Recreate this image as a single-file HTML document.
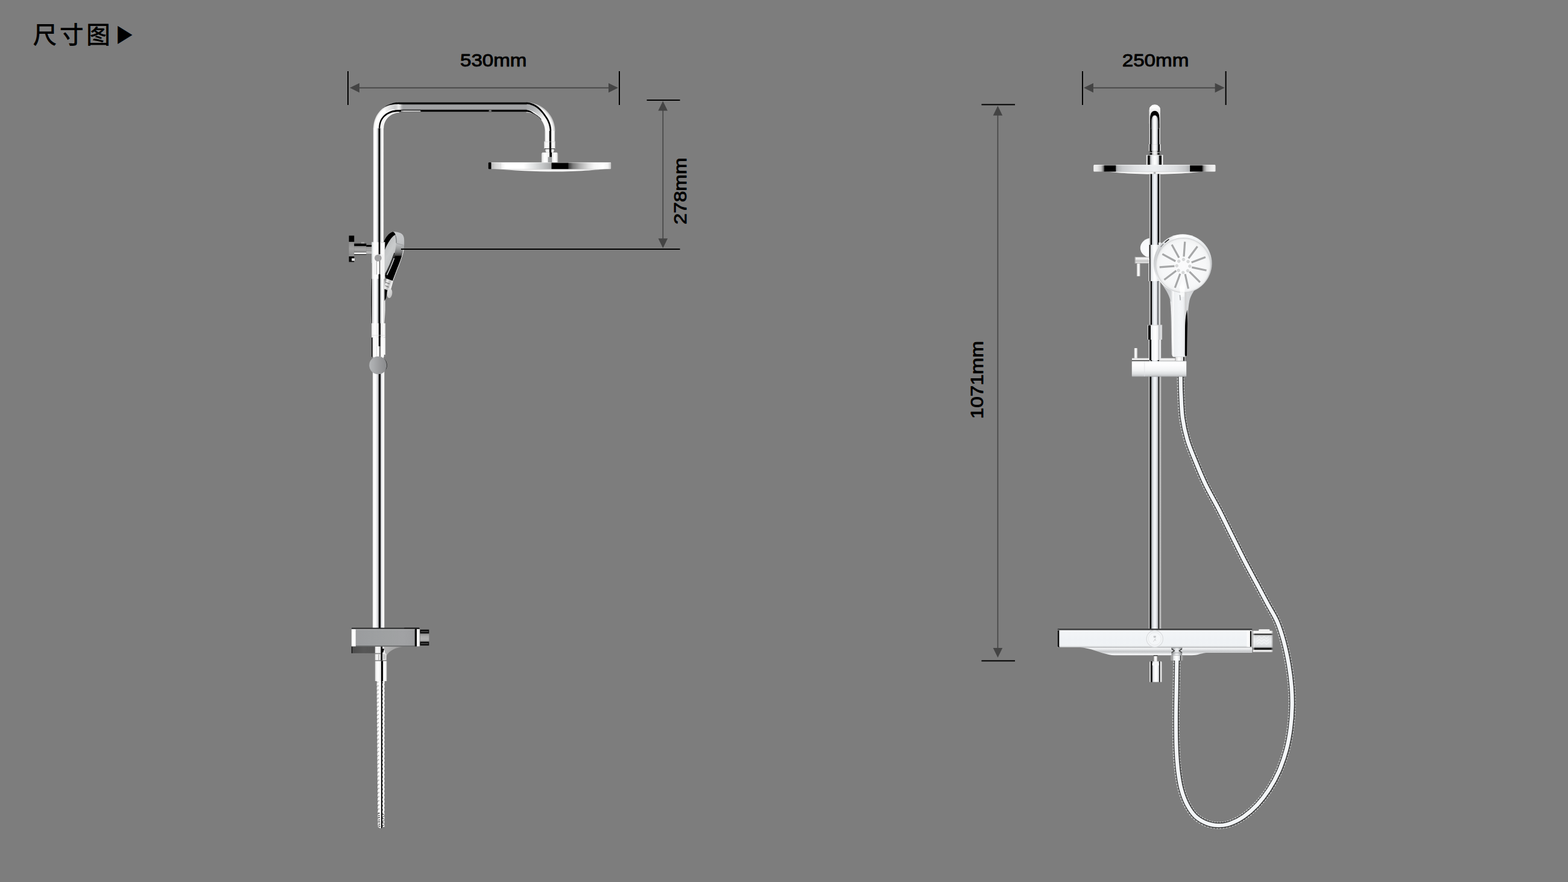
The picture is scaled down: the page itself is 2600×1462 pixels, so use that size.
<!DOCTYPE html>
<html lang="zh-CN">
<head>
<meta charset="utf-8">
<title>尺寸图</title>
<style>
html,body{margin:0;padding:0;background:#7d7d7d;}
body{width:2600px;height:1462px;overflow:hidden;position:relative;font-family:"Liberation Sans","Noto Sans CJK SC",sans-serif;}
svg{position:absolute;left:0;top:0;display:block;}
.dim{font-family:"Liberation Sans","Noto Sans CJK SC",sans-serif;fill:#000;stroke:#000;stroke-width:0.9px;stroke-linejoin:round;}
.ttl{font-family:"Liberation Sans","Noto Sans CJK SC",sans-serif;fill:#000;}
</style>
</head>
<body>
<svg width="2600" height="1462" viewBox="0 0 2600 1462">
<defs>
<linearGradient id="g1" x1="615" y1="0" x2="640" y2="0" gradientUnits="userSpaceOnUse"><stop offset="0" stop-color="#7d7d7d"/><stop offset="0.024" stop-color="#222"/><stop offset="0.072" stop-color="#222"/><stop offset="0.096" stop-color="#e8e8e8"/><stop offset="0.48" stop-color="#fff"/><stop offset="0.84" stop-color="#f4f4f4"/><stop offset="0.936" stop-color="#d0d0d0"/><stop offset="1" stop-color="#555"/></linearGradient>
<linearGradient id="g2" x1="0" y1="384" x2="0" y2="430" gradientUnits="userSpaceOnUse"><stop offset="0" stop-color="#c6c8ca"/><stop offset="0.2609" stop-color="#c2c4c6"/><stop offset="0.4261" stop-color="#bcbec0"/><stop offset="0.487" stop-color="#b4b6b8"/><stop offset="0.6087" stop-color="#9c9e9f"/><stop offset="0.7391" stop-color="#7a7b7c"/><stop offset="0.8478" stop-color="#4a4a4a"/><stop offset="0.913" stop-color="#101010"/><stop offset="1" stop-color="#000"/></linearGradient>
<linearGradient id="g3" x1="0.2" y1="0" x2="0.7" y2="1"><stop offset="0" stop-color="#b4b6b7"/><stop offset="0.45" stop-color="#c9cbcc"/><stop offset="0.8" stop-color="#bdbfc0"/><stop offset="1" stop-color="#a6a8a9"/></linearGradient>
<linearGradient id="g4" x1="0" y1="0" x2="1" y2="0.6"><stop offset="0" stop-color="#555"/><stop offset="0.3" stop-color="#f0f0f0"/><stop offset="0.55" stop-color="#bdbdbd"/><stop offset="0.8" stop-color="#f4f4f4"/><stop offset="1" stop-color="#9a9a9a"/></linearGradient>
<linearGradient id="g5" x1="0" y1="0" x2="1" y2="1"><stop offset="0" stop-color="#e6e6e6"/><stop offset="0.5" stop-color="#d2d2d2"/><stop offset="1" stop-color="#bcbcbc"/></linearGradient>
<linearGradient id="g6" x1="0" y1="390.2" x2="0" y2="435.4" gradientUnits="userSpaceOnUse"><stop offset="0" stop-color="#4a4a4a"/><stop offset="0.031" stop-color="#000"/><stop offset="0.2257" stop-color="#000"/><stop offset="0.2434" stop-color="#8e8e8e"/><stop offset="0.4823" stop-color="#a0a0a0"/><stop offset="0.7611" stop-color="#8c8c8c"/><stop offset="0.7788" stop-color="#000"/><stop offset="0.9558" stop-color="#000"/><stop offset="0.9735" stop-color="#555"/><stop offset="1" stop-color="#777"/></linearGradient>
<linearGradient id="g7" x1="0" y1="403.6" x2="0" y2="422.8" gradientUnits="userSpaceOnUse"><stop offset="0" stop-color="#222"/><stop offset="0.0417" stop-color="#000"/><stop offset="0.1979" stop-color="#000"/><stop offset="0.2396" stop-color="#8a8a8a"/><stop offset="0.4896" stop-color="#a6a6a6"/><stop offset="0.7187" stop-color="#8e8e8e"/><stop offset="0.75" stop-color="#111"/><stop offset="0.7917" stop-color="#fff"/><stop offset="0.9062" stop-color="#fff"/><stop offset="0.9375" stop-color="#222"/><stop offset="1" stop-color="#666"/></linearGradient>
<linearGradient id="g8" x1="0" y1="406" x2="0" y2="420.2" gradientUnits="userSpaceOnUse"><stop offset="0" stop-color="#000"/><stop offset="0.1972" stop-color="#000"/><stop offset="0.2394" stop-color="#8c8c8c"/><stop offset="0.493" stop-color="#a2a2a2"/><stop offset="0.7465" stop-color="#9a9a9a"/><stop offset="0.8028" stop-color="#d8d8d8"/><stop offset="0.8592" stop-color="#555"/><stop offset="0.9155" stop-color="#fff"/><stop offset="1" stop-color="#aaa"/></linearGradient>
<linearGradient id="g9" x1="618.8" y1="0" x2="636.2" y2="0" gradientUnits="userSpaceOnUse"><stop offset="0" stop-color="#c4c4c6"/><stop offset="0.0575" stop-color="#ececee"/><stop offset="0.1149" stop-color="#fdfdfe"/><stop offset="0.2644" stop-color="#ffffff"/><stop offset="0.3448" stop-color="#eeeff1"/><stop offset="0.4253" stop-color="#c8cacc"/><stop offset="0.4943" stop-color="#909294"/><stop offset="0.523" stop-color="#000"/><stop offset="0.6437" stop-color="#000"/><stop offset="0.6667" stop-color="#7c7e80"/><stop offset="0.7126" stop-color="#bcbebe"/><stop offset="0.7816" stop-color="#e8eaea"/><stop offset="0.8391" stop-color="#ffffff"/><stop offset="0.931" stop-color="#ffffff"/><stop offset="0.9655" stop-color="#e4e4e4"/><stop offset="1" stop-color="#c0c0c0"/></linearGradient>
<linearGradient id="g10" x1="617.9" y1="0" x2="637.5" y2="0" gradientUnits="userSpaceOnUse"><stop offset="0" stop-color="#c9c9c9"/><stop offset="0.0663" stop-color="#fafafa"/><stop offset="0.2296" stop-color="#ffffff"/><stop offset="0.3418" stop-color="#ececee"/><stop offset="0.4337" stop-color="#c9c9cc"/><stop offset="0.4898" stop-color="#a8a8aa"/><stop offset="0.5102" stop-color="#000"/><stop offset="0.648" stop-color="#000"/><stop offset="0.6684" stop-color="#aeb0b4"/><stop offset="0.75" stop-color="#d8d9dc"/><stop offset="0.8418" stop-color="#fbfbfc"/><stop offset="0.9439" stop-color="#ffffff"/><stop offset="1" stop-color="#cdcdcd"/></linearGradient>
<linearGradient id="g11" x1="0" y1="169.6" x2="0" y2="185.4" gradientUnits="userSpaceOnUse"><stop offset="0" stop-color="#2a2a2a"/><stop offset="0.0506" stop-color="#000"/><stop offset="0.1899" stop-color="#000"/><stop offset="0.2405" stop-color="#8f9092"/><stop offset="0.4051" stop-color="#a3a4a6"/><stop offset="0.6582" stop-color="#a0a1a3"/><stop offset="0.7595" stop-color="#8a8a8c"/><stop offset="0.7975" stop-color="#000"/><stop offset="0.9494" stop-color="#000"/><stop offset="1" stop-color="#3a3a3a"/></linearGradient>
<radialGradient id="g12" cx="662" cy="212.6" r="43.0" gradientUnits="userSpaceOnUse"><stop offset="0" stop-color="#ffffff"/><stop offset="0.6" stop-color="#ffffff"/><stop offset="0.66" stop-color="#f4f4f4"/><stop offset="0.8" stop-color="#fdfdfd"/><stop offset="0.92" stop-color="#ffffff"/><stop offset="0.975" stop-color="#ececec"/><stop offset="1" stop-color="#c4c4c4"/></radialGradient>
<linearGradient id="g13" x1="0" y1="0" x2="1" y2="0"><stop offset="0" stop-color="#a2a3a5" stop-opacity="0"/><stop offset="0.75" stop-color="#a2a3a5" stop-opacity="0.55"/><stop offset="1" stop-color="#a2a3a5" stop-opacity="1"/></linearGradient>
<radialGradient id="g14" cx="872.5" cy="217.6" r="48.0" gradientUnits="userSpaceOnUse"><stop offset="0" stop-color="#f4f4f4"/><stop offset="0.64" stop-color="#f4f4f4"/><stop offset="0.7" stop-color="#ffffff"/><stop offset="0.8" stop-color="#f0f0f0"/><stop offset="0.86" stop-color="#ffffff"/><stop offset="0.93" stop-color="#f6f6f6"/><stop offset="1" stop-color="#b8b8b8"/></radialGradient>
<linearGradient id="g15" x1="0" y1="0" x2="1" y2="0.8"><stop offset="0" stop-color="#a2a3a5" stop-opacity="1"/><stop offset="0.35" stop-color="#aeb0b2" stop-opacity="1"/><stop offset="0.7" stop-color="#c9cbcc" stop-opacity="0.8"/><stop offset="1" stop-color="#e0e0e0" stop-opacity="0"/></linearGradient>
<linearGradient id="g16" x1="0" y1="0" x2="1" y2="0"><stop offset="0" stop-color="#f4f4f4" stop-opacity="0"/><stop offset="0.4" stop-color="#ececec" stop-opacity="1"/><stop offset="0.6" stop-color="#dedede" stop-opacity="1"/><stop offset="1" stop-color="#a3a4a6" stop-opacity="0"/></linearGradient>
<linearGradient id="g17" x1="0" y1="0" x2="1" y2="0"><stop offset="0" stop-color="#8a8a8a"/><stop offset="0.15" stop-color="#c9c9c9"/><stop offset="1" stop-color="#bdbdbd"/></linearGradient>
<linearGradient id="g18" x1="903.3" y1="0" x2="920.2" y2="0" gradientUnits="userSpaceOnUse"><stop offset="0" stop-color="#b8b8b8"/><stop offset="0.0769" stop-color="#f0f0f0"/><stop offset="0.2189" stop-color="#ffffff"/><stop offset="0.4201" stop-color="#f0f0f0"/><stop offset="0.4556" stop-color="#000"/><stop offset="0.6213" stop-color="#000"/><stop offset="0.6568" stop-color="#e8e8e8"/><stop offset="0.8107" stop-color="#ffffff"/><stop offset="0.929" stop-color="#f0f0f0"/><stop offset="1" stop-color="#b0b0b0"/></linearGradient>
<linearGradient id="g19" x1="902" y1="0" x2="920.8" y2="0" gradientUnits="userSpaceOnUse"><stop offset="0" stop-color="#b0b0b0"/><stop offset="0.0745" stop-color="#ededed"/><stop offset="0.266" stop-color="#ffffff"/><stop offset="0.4574" stop-color="#f0f0f0"/><stop offset="0.484" stop-color="#000"/><stop offset="0.633" stop-color="#000"/><stop offset="0.6649" stop-color="#e4e4e4"/><stop offset="0.8191" stop-color="#ffffff"/><stop offset="0.9362" stop-color="#ececec"/><stop offset="1" stop-color="#a8a8a8"/></linearGradient>
<linearGradient id="g20" x1="903" y1="0" x2="920" y2="0" gradientUnits="userSpaceOnUse"><stop offset="0" stop-color="#777"/><stop offset="0.1176" stop-color="#e0e0e0"/><stop offset="0.2941" stop-color="#fff"/><stop offset="0.4706" stop-color="#ddd"/><stop offset="0.4941" stop-color="#000"/><stop offset="0.6471" stop-color="#000"/><stop offset="0.6824" stop-color="#e8e8e8"/><stop offset="0.8235" stop-color="#fff"/><stop offset="1" stop-color="#888"/></linearGradient>
<linearGradient id="g21" x1="897.6" y1="0" x2="925.4" y2="0" gradientUnits="userSpaceOnUse"><stop offset="0" stop-color="#a4a4a4"/><stop offset="0.0576" stop-color="#e8e8e8"/><stop offset="0.1942" stop-color="#ffffff"/><stop offset="0.4101" stop-color="#f4f4f4"/><stop offset="0.4892" stop-color="#e0e0e0"/><stop offset="0.5036" stop-color="#000"/><stop offset="0.6187" stop-color="#000"/><stop offset="0.6403" stop-color="#e0e0e0"/><stop offset="0.7698" stop-color="#ffffff"/><stop offset="0.9137" stop-color="#f0f0f0"/><stop offset="1" stop-color="#a0a0a0"/></linearGradient>
<linearGradient id="g22" x1="809.8" y1="0" x2="1013.2" y2="0" gradientUnits="userSpaceOnUse"><stop offset="0" stop-color="#000"/><stop offset="0.0221" stop-color="#000"/><stop offset="0.0241" stop-color="#b9b9b9"/><stop offset="0.06" stop-color="#d6d6d6"/><stop offset="0.0973" stop-color="#e4e4e4"/><stop offset="0.0993" stop-color="#8a8a8a"/><stop offset="0.1023" stop-color="#eeeeee"/><stop offset="0.1386" stop-color="#ffffff"/><stop offset="0.2861" stop-color="#ffffff"/><stop offset="0.3697" stop-color="#e0e2e3"/><stop offset="0.4435" stop-color="#c4c6c7"/><stop offset="0.5133" stop-color="#a4a5a6"/><stop offset="0.5162" stop-color="#000"/><stop offset="0.648" stop-color="#000"/><stop offset="0.6549" stop-color="#3c3c3c"/><stop offset="0.6893" stop-color="#7a7a7a"/><stop offset="0.7483" stop-color="#b0b0b0"/><stop offset="0.8122" stop-color="#dedede"/><stop offset="0.8614" stop-color="#f6f6f6"/><stop offset="0.9351" stop-color="#ffffff"/><stop offset="0.9744" stop-color="#f4f4f4"/><stop offset="1" stop-color="#c4c4c4"/></linearGradient>
<linearGradient id="g23" x1="0" y1="279" x2="0" y2="285" gradientUnits="userSpaceOnUse"><stop offset="0" stop-color="#8c8c8c"/><stop offset="0.2667" stop-color="#dcdcdc"/><stop offset="0.6" stop-color="#ffffff"/><stop offset="0.9333" stop-color="#e6e6e6"/></linearGradient>
<linearGradient id="g24" x1="616.4" y1="0" x2="638.4" y2="0" gradientUnits="userSpaceOnUse"><stop offset="0" stop-color="#9a9a9a"/><stop offset="0.0455" stop-color="#e8e8e8"/><stop offset="0.1409" stop-color="#f8f8f8"/><stop offset="0.3455" stop-color="#ffffff"/><stop offset="0.5" stop-color="#eeeeee"/><stop offset="0.5227" stop-color="#000"/><stop offset="0.6273" stop-color="#000"/><stop offset="0.65" stop-color="#e6e6e6"/><stop offset="0.8" stop-color="#ffffff"/><stop offset="0.9364" stop-color="#f4f4f4"/><stop offset="1" stop-color="#c6c6c6"/></linearGradient>
<linearGradient id="g25" x1="624.6" y1="0" x2="630.4" y2="0" gradientUnits="userSpaceOnUse"><stop offset="0" stop-color="#555"/><stop offset="0.1379" stop-color="#fff"/><stop offset="0.6897" stop-color="#fff"/><stop offset="0.7931" stop-color="#222"/><stop offset="1" stop-color="#999"/></linearGradient>
<linearGradient id="g26" x1="618.8" y1="0" x2="636.2" y2="0" gradientUnits="userSpaceOnUse"><stop offset="0" stop-color="#c4c4c6"/><stop offset="0.0575" stop-color="#ececee"/><stop offset="0.1149" stop-color="#fdfdfe"/><stop offset="0.2644" stop-color="#ffffff"/><stop offset="0.3448" stop-color="#eeeff1"/><stop offset="0.4253" stop-color="#c8cacc"/><stop offset="0.4943" stop-color="#909294"/><stop offset="0.523" stop-color="#000"/><stop offset="0.6437" stop-color="#000"/><stop offset="0.6667" stop-color="#7c7e80"/><stop offset="0.7126" stop-color="#bcbebe"/><stop offset="0.7816" stop-color="#e8eaea"/><stop offset="0.8391" stop-color="#ffffff"/><stop offset="0.931" stop-color="#ffffff"/><stop offset="0.9655" stop-color="#e4e4e4"/><stop offset="1" stop-color="#c0c0c0"/></linearGradient>
<linearGradient id="g27" x1="616" y1="0" x2="639.2" y2="0" gradientUnits="userSpaceOnUse"><stop offset="0" stop-color="#c4c4c4"/><stop offset="0.069" stop-color="#f4f4f4"/><stop offset="0.2586" stop-color="#ffffff"/><stop offset="0.4569" stop-color="#eaeaea"/><stop offset="0.5086" stop-color="#cfcfcf"/><stop offset="0.5259" stop-color="#000"/><stop offset="0.6379" stop-color="#000"/><stop offset="0.6552" stop-color="#d8d8d8"/><stop offset="0.75" stop-color="#f2f2f2"/><stop offset="0.8621" stop-color="#ffffff"/><stop offset="0.9483" stop-color="#ececec"/><stop offset="1" stop-color="#c0c0c0"/></linearGradient>
<linearGradient id="g28" x1="616" y1="0" x2="639.2" y2="0" gradientUnits="userSpaceOnUse"><stop offset="0" stop-color="#111"/><stop offset="0.0603" stop-color="#222"/><stop offset="0.0862" stop-color="#e2e2e2"/><stop offset="0.2155" stop-color="#ffffff"/><stop offset="0.4569" stop-color="#f0f0f0"/><stop offset="0.5086" stop-color="#d4d4d4"/><stop offset="0.5259" stop-color="#000"/><stop offset="0.6207" stop-color="#000"/><stop offset="0.6379" stop-color="#dcdcdc"/><stop offset="0.7586" stop-color="#ffffff"/><stop offset="0.931" stop-color="#f6f6f6"/><stop offset="1" stop-color="#cdcdcd"/></linearGradient>
<linearGradient id="g29" x1="624.6" y1="0" x2="630.4" y2="0" gradientUnits="userSpaceOnUse"><stop offset="0" stop-color="#bbb"/><stop offset="0.1379" stop-color="#fff"/><stop offset="0.6552" stop-color="#fff"/><stop offset="0.7931" stop-color="#444"/><stop offset="1" stop-color="#ddd"/></linearGradient>
<linearGradient id="g30" x1="0" y1="0" x2="1" y2="0"><stop offset="0" stop-color="#b4b6b8"/><stop offset="0.25" stop-color="#a9abad"/><stop offset="0.6" stop-color="#98999b"/><stop offset="1" stop-color="#88898b"/></linearGradient>
<linearGradient id="g31" x1="0" y1="0" x2="1" y2="0"><stop offset="0" stop-color="#000"/><stop offset="0.03" stop-color="#1a1a1a"/><stop offset="0.05" stop-color="#4c4c4c"/><stop offset="0.5" stop-color="#575757"/><stop offset="1" stop-color="#535353"/></linearGradient>
<linearGradient id="g32" x1="0" y1="0" x2="1" y2="0.3"><stop offset="0" stop-color="#b6b6b6"/><stop offset="0.5" stop-color="#a6a6a6"/><stop offset="1" stop-color="#8c8c8c" stop-opacity="0.3"/></linearGradient>
<linearGradient id="g33" x1="621.8" y1="0" x2="641" y2="0" gradientUnits="userSpaceOnUse"><stop offset="0" stop-color="#c0c0c0"/><stop offset="0.0625" stop-color="#ececec"/><stop offset="0.2188" stop-color="#f8f8f8"/><stop offset="0.4583" stop-color="#e6e6e6"/><stop offset="0.5104" stop-color="#555"/><stop offset="0.5417" stop-color="#000"/><stop offset="0.6354" stop-color="#111"/><stop offset="0.6667" stop-color="#e0e0e0"/><stop offset="0.7917" stop-color="#f4f4f4"/><stop offset="1" stop-color="#cfcfcf"/></linearGradient>
<linearGradient id="g34" x1="621.8" y1="0" x2="641.4" y2="0" gradientUnits="userSpaceOnUse"><stop offset="0" stop-color="#b4b4b4"/><stop offset="0.0612" stop-color="#ededed"/><stop offset="0.2449" stop-color="#ffffff"/><stop offset="0.4388" stop-color="#f4f4f4"/><stop offset="0.5" stop-color="#d0d0d0"/><stop offset="0.5255" stop-color="#000"/><stop offset="0.6531" stop-color="#000"/><stop offset="0.6837" stop-color="#dadada"/><stop offset="0.7959" stop-color="#ffffff"/><stop offset="0.9286" stop-color="#f0f0f0"/><stop offset="1" stop-color="#b8b8b8"/></linearGradient>
<linearGradient id="g35" x1="624.5" y1="0" x2="637.9" y2="0" gradientUnits="userSpaceOnUse"><stop offset="0" stop-color="#c8c8c8"/><stop offset="0.0672" stop-color="#f2f2f2"/><stop offset="0.2612" stop-color="#ffffff"/><stop offset="0.4552" stop-color="#fbfbfb"/><stop offset="0.5299" stop-color="#d8d8d8"/><stop offset="0.5522" stop-color="#0c0c0c"/><stop offset="0.6866" stop-color="#141414"/><stop offset="0.7164" stop-color="#e6e6e6"/><stop offset="0.7985" stop-color="#ffffff"/><stop offset="0.9328" stop-color="#f8f8f8"/><stop offset="1" stop-color="#c4c4c4"/></linearGradient>
<linearGradient id="g36" x1="582.8" y1="0" x2="696" y2="0" gradientUnits="userSpaceOnUse"><stop offset="0" stop-color="#dcdcdc"/><stop offset="0.0106" stop-color="#ffffff"/><stop offset="0.0459" stop-color="#ffffff"/><stop offset="0.0601" stop-color="#e6e6e6"/><stop offset="0.0671" stop-color="#9b9c9e"/><stop offset="0.2403" stop-color="#9c9ea0"/><stop offset="0.5053" stop-color="#9fa1a2"/><stop offset="0.7703" stop-color="#a1a2a4"/><stop offset="0.924" stop-color="#9c9d9f"/><stop offset="0.9284" stop-color="#000"/><stop offset="0.9523" stop-color="#000"/><stop offset="0.9576" stop-color="#e8e8e8"/><stop offset="0.9735" stop-color="#ffffff"/><stop offset="0.9912" stop-color="#f2f2f2"/><stop offset="1" stop-color="#bdbdbd"/></linearGradient>
<linearGradient id="g37" x1="0" y1="1043.2" x2="0" y2="1070.6" gradientUnits="userSpaceOnUse"><stop offset="0" stop-color="#666"/><stop offset="0.0365" stop-color="#0a0a0a"/><stop offset="0.2336" stop-color="#111"/><stop offset="0.2701" stop-color="#8a8a8a"/><stop offset="0.3942" stop-color="#a8a8a8"/><stop offset="0.6131" stop-color="#b2b2b2"/><stop offset="0.7226" stop-color="#9a9a9a"/><stop offset="0.7591" stop-color="#111"/><stop offset="0.9562" stop-color="#0a0a0a"/><stop offset="1" stop-color="#777"/></linearGradient>
<path id="hosep" d="M1957.6 622 C1957.7 626.9 1957.65 639.6 1958.2 651.4 C1958.75 663.2 1959.17 679.92 1960.9 692.8 C1962.63 705.68 1965.23 717.2 1968.6 728.7 C1971.97 740.2 1976.03 749.38 1981.1 761.8 C1986.17 774.22 1992.33 789.4 1999 803.2 C2005.67 817 2013.97 830.8 2021.1 844.6 C2028.23 858.4 2034.9 872.2 2041.8 886 C2048.7 899.8 2055.37 913.6 2062.5 927.4 C2069.63 941.2 2078.05 956.53 2084.6 968.8 C2091.15 981.07 2096.28 990.73 2101.8 1001 C2107.32 1011.27 2113.22 1019.98 2117.7 1030.4 C2122.18 1040.82 2125.48 1051.55 2128.7 1063.5 C2131.92 1075.45 2134.87 1089.68 2137 1102.1 C2139.13 1114.52 2140.58 1126.5 2141.5 1138 C2142.42 1149.5 2142.78 1159.6 2142.5 1171.1 C2142.22 1182.6 2141.4 1195.03 2139.8 1207 C2138.2 1218.97 2136.13 1230.93 2132.9 1242.9 C2129.67 1254.87 2125.23 1267.77 2120.4 1278.8 C2115.57 1289.83 2109.87 1299.9 2103.9 1309.1 C2097.93 1318.3 2091.5 1326.63 2084.6 1334 C2077.7 1341.37 2069.87 1348.15 2062.5 1353.3 C2055.13 1358.45 2047.3 1362.42 2040.4 1364.9 C2033.5 1367.38 2027.53 1368.2 2021.1 1368.2 C2014.67 1368.2 2008.25 1367.38 2001.8 1364.9 C1995.35 1362.42 1987.93 1358.45 1982.4 1353.3 C1976.87 1348.15 1972.5 1341.37 1968.6 1334 C1964.7 1326.63 1961.52 1318.3 1959 1309.1 C1956.48 1299.9 1954.88 1289.83 1953.5 1278.8 C1952.12 1267.77 1951.3 1257.17 1950.7 1242.9 C1950.1 1228.63 1949.9 1210.68 1949.9 1193.2 C1949.9 1175.72 1950.45 1154.53 1950.7 1138 C1950.95 1121.47 1951.28 1101.33 1951.4 1094"/>
<linearGradient id="g38" x1="1905.6" y1="0" x2="1924" y2="0" gradientUnits="userSpaceOnUse"><stop offset="0" stop-color="#b4b4b4"/><stop offset="0.0435" stop-color="#e4e4e4"/><stop offset="0.0761" stop-color="#d0d0d0"/><stop offset="0.0978" stop-color="#1a1a1a"/><stop offset="0.1304" stop-color="#000"/><stop offset="0.1848" stop-color="#0a0a0a"/><stop offset="0.2283" stop-color="#85888b"/><stop offset="0.2935" stop-color="#c4c7ca"/><stop offset="0.3804" stop-color="#eef0f2"/><stop offset="0.5" stop-color="#ffffff"/><stop offset="0.6196" stop-color="#eef0f2"/><stop offset="0.7065" stop-color="#c4c7ca"/><stop offset="0.7717" stop-color="#85888b"/><stop offset="0.8152" stop-color="#0a0a0a"/><stop offset="0.8696" stop-color="#000"/><stop offset="0.9022" stop-color="#1a1a1a"/><stop offset="0.9239" stop-color="#d0d0d0"/><stop offset="0.9565" stop-color="#e4e4e4"/><stop offset="1" stop-color="#b4b4b4"/></linearGradient>
<linearGradient id="g39" x1="0" y1="173.4" x2="0" y2="205" gradientUnits="userSpaceOnUse"><stop offset="0" stop-color="#f4f4f4"/><stop offset="0.1456" stop-color="#ffffff"/><stop offset="0.3354" stop-color="#ececec"/><stop offset="0.5886" stop-color="#d8d8d8"/><stop offset="1" stop-color="#d2d2d2"/></linearGradient>
<linearGradient id="g40" x1="1904.8" y1="0" x2="1924.8" y2="0" gradientUnits="userSpaceOnUse"><stop offset="0" stop-color="#b0b0b0"/><stop offset="0.04" stop-color="#f0f0f0"/><stop offset="0.07" stop-color="#d0d0d0"/><stop offset="0.09" stop-color="#000"/><stop offset="0.2" stop-color="#000"/><stop offset="0.24" stop-color="#8a8d90"/><stop offset="0.36" stop-color="#e8eaec"/><stop offset="0.5" stop-color="#ffffff"/><stop offset="0.64" stop-color="#e8eaec"/><stop offset="0.76" stop-color="#8a8d90"/><stop offset="0.8" stop-color="#000"/><stop offset="0.91" stop-color="#000"/><stop offset="0.93" stop-color="#d8d8d8"/><stop offset="0.96" stop-color="#f0f0f0"/><stop offset="1" stop-color="#b0b0b0"/></linearGradient>
<linearGradient id="g41" x1="1905.6" y1="0" x2="1924" y2="0" gradientUnits="userSpaceOnUse"><stop offset="0" stop-color="#666"/><stop offset="0.0978" stop-color="#111"/><stop offset="0.2174" stop-color="#000"/><stop offset="0.2935" stop-color="#c0c0c0"/><stop offset="0.5109" stop-color="#fff"/><stop offset="0.7065" stop-color="#c0c0c0"/><stop offset="0.7826" stop-color="#000"/><stop offset="0.8913" stop-color="#111"/><stop offset="1" stop-color="#777"/></linearGradient>
<linearGradient id="g42" x1="1900.6" y1="0" x2="1928.8" y2="0" gradientUnits="userSpaceOnUse"><stop offset="0" stop-color="#b8b8b8"/><stop offset="0.0426" stop-color="#f2f2f2"/><stop offset="0.078" stop-color="#d0d0d0"/><stop offset="0.0922" stop-color="#000"/><stop offset="0.1986" stop-color="#000"/><stop offset="0.227" stop-color="#9a9c9e"/><stop offset="0.3333" stop-color="#e8eaeb"/><stop offset="0.5035" stop-color="#ffffff"/><stop offset="0.6667" stop-color="#e8eaeb"/><stop offset="0.7589" stop-color="#9a9c9e"/><stop offset="0.7801" stop-color="#000"/><stop offset="0.8865" stop-color="#000"/><stop offset="0.9078" stop-color="#d0d0d0"/><stop offset="0.9504" stop-color="#f2f2f2"/><stop offset="1" stop-color="#b4b4b4"/></linearGradient>
<linearGradient id="g43" x1="0" y1="283" x2="0" y2="289" gradientUnits="userSpaceOnUse"><stop offset="0" stop-color="#9a9a9a"/><stop offset="0.2667" stop-color="#d8d8d8"/><stop offset="0.6" stop-color="#ffffff"/><stop offset="0.9667" stop-color="#f0f0f0"/></linearGradient>
<linearGradient id="g44" x1="1813" y1="0" x2="2015.8" y2="0" gradientUnits="userSpaceOnUse"><stop offset="0" stop-color="#c0c0c0"/><stop offset="0.0069" stop-color="#efefef"/><stop offset="0.0345" stop-color="#e4e4e4"/><stop offset="0.0641" stop-color="#c4c4c4"/><stop offset="0.0819" stop-color="#7a7a7a"/><stop offset="0.0907" stop-color="#1a1a1a"/><stop offset="0.0947" stop-color="#000"/><stop offset="0.1824" stop-color="#000"/><stop offset="0.1854" stop-color="#8c8e90"/><stop offset="0.1972" stop-color="#b4b6b8"/><stop offset="0.2416" stop-color="#c9cbcd"/><stop offset="0.3304" stop-color="#dcdee0"/><stop offset="0.429" stop-color="#e8eaec"/><stop offset="0.501" stop-color="#eceef0"/><stop offset="0.5769" stop-color="#e6e8ea"/><stop offset="0.6755" stop-color="#dadcde"/><stop offset="0.7495" stop-color="#c6c8ca"/><stop offset="0.789" stop-color="#b0b2b4"/><stop offset="0.7919" stop-color="#000"/><stop offset="0.8856" stop-color="#000"/><stop offset="0.8905" stop-color="#2a2a2a"/><stop offset="0.9024" stop-color="#8a8a8a"/><stop offset="0.927" stop-color="#cfcfcf"/><stop offset="0.9615" stop-color="#eaeaea"/><stop offset="0.9911" stop-color="#f2f2f2"/><stop offset="1" stop-color="#c4c4c4"/></linearGradient>
<linearGradient id="g45" x1="0" y1="0" x2="1" y2="1"><stop offset="0" stop-color="#f4f6f8"/><stop offset="0.6" stop-color="#fbfcfd"/><stop offset="1" stop-color="#e8eaec"/></linearGradient>
<linearGradient id="g46" x1="1905.8" y1="0" x2="1924.3" y2="0" gradientUnits="userSpaceOnUse"><stop offset="0" stop-color="#a8a8a8"/><stop offset="0.027" stop-color="#bebebe"/><stop offset="0.0865" stop-color="#b4b4b4"/><stop offset="0.1081" stop-color="#151515"/><stop offset="0.1297" stop-color="#000"/><stop offset="0.2" stop-color="#050505"/><stop offset="0.227" stop-color="#8e9296"/><stop offset="0.2811" stop-color="#c2c6ca"/><stop offset="0.3892" stop-color="#e6eaee"/><stop offset="0.4757" stop-color="#f2f5f8"/><stop offset="0.5784" stop-color="#eceef2"/><stop offset="0.6811" stop-color="#d0d2d6"/><stop offset="0.7351" stop-color="#a0a2a6"/><stop offset="0.7568" stop-color="#000"/><stop offset="0.8541" stop-color="#000"/><stop offset="0.8757" stop-color="#b0b0b0"/><stop offset="0.9297" stop-color="#c8c8c8"/><stop offset="1" stop-color="#a6a6a6"/></linearGradient>
<linearGradient id="g47" x1="1904.7" y1="0" x2="1925.3" y2="0" gradientUnits="userSpaceOnUse"><stop offset="0" stop-color="#b0b0b0"/><stop offset="0.0291" stop-color="#cacaca"/><stop offset="0.0728" stop-color="#c0c0c0"/><stop offset="0.0922" stop-color="#151515"/><stop offset="0.1214" stop-color="#000"/><stop offset="0.1845" stop-color="#050505"/><stop offset="0.2087" stop-color="#8e9296"/><stop offset="0.2767" stop-color="#bcc0c4"/><stop offset="0.3835" stop-color="#e2e6ea"/><stop offset="0.4757" stop-color="#f2f5f8"/><stop offset="0.5777" stop-color="#eceef2"/><stop offset="0.6748" stop-color="#cfd1d5"/><stop offset="0.7524" stop-color="#a4a6aa"/><stop offset="0.7816" stop-color="#1a1a1a"/><stop offset="0.8447" stop-color="#1a1a1a"/><stop offset="0.8641" stop-color="#9a9a9a"/><stop offset="0.9272" stop-color="#a8a8a8"/><stop offset="0.9563" stop-color="#d2d2d2"/><stop offset="1" stop-color="#b0b0b0"/></linearGradient>
<linearGradient id="g48" x1="1907.7" y1="0" x2="1921" y2="0" gradientUnits="userSpaceOnUse"><stop offset="0" stop-color="#c8cacc"/><stop offset="0.2481" stop-color="#f4f6f8"/><stop offset="0.5489" stop-color="#ffffff"/><stop offset="0.8496" stop-color="#f0f2f4"/><stop offset="1" stop-color="#d0d2d4"/></linearGradient>
<linearGradient id="g49" x1="1905.8" y1="0" x2="1924.3" y2="0" gradientUnits="userSpaceOnUse"><stop offset="0" stop-color="#a8a8a8"/><stop offset="0.027" stop-color="#c2c2c2"/><stop offset="0.0865" stop-color="#b8b8b8"/><stop offset="0.1081" stop-color="#151515"/><stop offset="0.1297" stop-color="#000"/><stop offset="0.2" stop-color="#050505"/><stop offset="0.227" stop-color="#8e9296"/><stop offset="0.2811" stop-color="#c2c6ca"/><stop offset="0.3892" stop-color="#e6eaee"/><stop offset="0.4757" stop-color="#f2f5f8"/><stop offset="0.5784" stop-color="#eceef2"/><stop offset="0.6811" stop-color="#d0d2d6"/><stop offset="0.7297" stop-color="#a0a2a6"/><stop offset="0.7514" stop-color="#5a5e62"/><stop offset="0.8108" stop-color="#5e6266"/><stop offset="0.8324" stop-color="#c4c6c8"/><stop offset="0.8973" stop-color="#d4d6d8"/><stop offset="0.9622" stop-color="#cccccc"/><stop offset="1" stop-color="#a6a6a6"/></linearGradient>
<linearGradient id="g50" x1="0" y1="425.8" x2="0" y2="436.8" gradientUnits="userSpaceOnUse"><stop offset="0" stop-color="#9a9a9a"/><stop offset="0.1091" stop-color="#e8e8e8"/><stop offset="0.2909" stop-color="#f6f6f6"/><stop offset="0.4727" stop-color="#d4d4d4"/><stop offset="0.6545" stop-color="#c4c4c4"/><stop offset="0.8727" stop-color="#e6e6e6"/><stop offset="1" stop-color="#9c9c9c"/></linearGradient>
<linearGradient id="g51" x1="1884.6" y1="0" x2="1890.8" y2="0" gradientUnits="userSpaceOnUse"><stop offset="0" stop-color="#8c8c8c"/><stop offset="0.1935" stop-color="#e0e0e0"/><stop offset="0.4839" stop-color="#ffffff"/><stop offset="0.7742" stop-color="#e4e4e4"/><stop offset="1" stop-color="#9a9a9a"/></linearGradient>
<linearGradient id="g52" x1="1902.8" y1="0" x2="1927.2" y2="0" gradientUnits="userSpaceOnUse"><stop offset="0" stop-color="#b4b4b4"/><stop offset="0.041" stop-color="#e8e8e8"/><stop offset="0.0656" stop-color="#000"/><stop offset="0.1967" stop-color="#000"/><stop offset="0.2213" stop-color="#dadcde"/><stop offset="0.3361" stop-color="#f6f8fa"/><stop offset="0.541" stop-color="#ffffff"/><stop offset="0.7049" stop-color="#f0f2f4"/><stop offset="0.7459" stop-color="#d6d8da"/><stop offset="0.7705" stop-color="#c0c2c4"/><stop offset="0.8689" stop-color="#d6d8da"/><stop offset="0.959" stop-color="#e0e2e4"/><stop offset="1" stop-color="#a8a8a8"/></linearGradient>
<linearGradient id="g53" x1="1904.6" y1="0" x2="1925.4" y2="0" gradientUnits="userSpaceOnUse"><stop offset="0" stop-color="#c0c0c0"/><stop offset="0.0481" stop-color="#e8e8e8"/><stop offset="0.0865" stop-color="#111"/><stop offset="0.1923" stop-color="#000"/><stop offset="0.2212" stop-color="#dcdee0"/><stop offset="0.3558" stop-color="#f8fafb"/><stop offset="0.5962" stop-color="#ffffff"/><stop offset="0.7596" stop-color="#eef0f2"/><stop offset="0.7885" stop-color="#8a8a8a"/><stop offset="0.8365" stop-color="#e0e2e4"/><stop offset="0.9519" stop-color="#eceef0"/><stop offset="1" stop-color="#b0b0b0"/></linearGradient>
<linearGradient id="g54" x1="1880.4" y1="0" x2="1886.2" y2="0" gradientUnits="userSpaceOnUse"><stop offset="0" stop-color="#9c9c9c"/><stop offset="0.2069" stop-color="#e4e4e4"/><stop offset="0.4828" stop-color="#ffffff"/><stop offset="0.7931" stop-color="#e0e0e0"/><stop offset="1" stop-color="#a0a0a0"/></linearGradient>
<linearGradient id="g55" x1="0" y1="593.6" x2="0" y2="599" gradientUnits="userSpaceOnUse"><stop offset="0" stop-color="#c8c8c8"/><stop offset="0.2222" stop-color="#f6f6f6"/><stop offset="0.5556" stop-color="#e0e0e0"/><stop offset="0.7407" stop-color="#3a3a3a"/><stop offset="0.8889" stop-color="#222"/><stop offset="1" stop-color="#888"/></linearGradient>
<linearGradient id="g56" x1="0" y1="593.6" x2="0" y2="599" gradientUnits="userSpaceOnUse"><stop offset="0" stop-color="#c8c8c8"/><stop offset="0.2222" stop-color="#f6f6f6"/><stop offset="0.7037" stop-color="#e4e4e4"/><stop offset="0.8889" stop-color="#9a9a9a"/><stop offset="1" stop-color="#bbb"/></linearGradient>
<linearGradient id="g57" x1="0" y1="598.6" x2="0" y2="624.4" gradientUnits="userSpaceOnUse"><stop offset="0" stop-color="#e8eaec"/><stop offset="0.0698" stop-color="#ffffff"/><stop offset="0.2868" stop-color="#fcfcfd"/><stop offset="0.5969" stop-color="#f2f3f4"/><stop offset="0.8295" stop-color="#dcdee0"/><stop offset="0.9457" stop-color="#c4c6c8"/><stop offset="1" stop-color="#9c9ea0"/></linearGradient>
<linearGradient id="g58" x1="1930" y1="0" x2="1986" y2="0" gradientUnits="userSpaceOnUse"><stop offset="0" stop-color="#c4c6c8"/><stop offset="0.1964" stop-color="#cfd1d3"/><stop offset="0.2429" stop-color="#e6e8ea"/><stop offset="0.2679" stop-color="#ffffff"/><stop offset="0.3036" stop-color="#eef0f2"/><stop offset="0.4464" stop-color="#f4f6f8"/><stop offset="0.5714" stop-color="#f0f2f4"/><stop offset="0.6143" stop-color="#e0e2e4"/><stop offset="0.6286" stop-color="#cfcfcf"/><stop offset="0.6964" stop-color="#d8dadc"/><stop offset="1" stop-color="#c8cacc"/></linearGradient>
<linearGradient id="g59" x1="1948.6" y1="0" x2="1965.4" y2="0" gradientUnits="userSpaceOnUse"><stop offset="0" stop-color="#8a8a8a"/><stop offset="0.0833" stop-color="#e0e0e0"/><stop offset="0.381" stop-color="#ffffff"/><stop offset="0.6786" stop-color="#e6e6e6"/><stop offset="0.7976" stop-color="#cfcfcf"/><stop offset="0.8333" stop-color="#111"/><stop offset="0.9167" stop-color="#111"/><stop offset="0.9524" stop-color="#e0e0e0"/><stop offset="1" stop-color="#9a9a9a"/></linearGradient>
<linearGradient id="g60" x1="0" y1="0.3" x2="1" y2="0.6"><stop offset="0" stop-color="#c4c6c8"/><stop offset="0.12" stop-color="#dcdee0"/><stop offset="0.3" stop-color="#ffffff"/><stop offset="0.6" stop-color="#f2f4f6"/><stop offset="0.85" stop-color="#e0e2e4"/><stop offset="1" stop-color="#c4c6c8"/></linearGradient>
<radialGradient id="g61" cx="1962.1" cy="439.7" r="45.7" gradientUnits="userSpaceOnUse"><stop offset="0" stop-color="#fbfbfc"/><stop offset="0.8" stop-color="#f6f7f8"/><stop offset="0.93" stop-color="#f2f3f4"/><stop offset="0.975" stop-color="#e4e5e6"/><stop offset="1" stop-color="#c2c4c6"/></radialGradient>
<linearGradient id="g62" x1="0" y1="460" x2="0" y2="492" gradientUnits="userSpaceOnUse"><stop offset="0" stop-color="#ffffff" stop-opacity="0"/><stop offset="0.5" stop-color="#ffffff" stop-opacity="0.95"/><stop offset="1" stop-color="#ffffff" stop-opacity="0.6"/></linearGradient>
<linearGradient id="g63" x1="0" y1="1072.6" x2="0" y2="1086.2" gradientUnits="userSpaceOnUse"><stop offset="0" stop-color="#b4b6b8"/><stop offset="0.1471" stop-color="#f4f5f6"/><stop offset="0.3235" stop-color="#e0e2e4"/><stop offset="0.5441" stop-color="#c4c6c8"/><stop offset="0.7353" stop-color="#d8dadc"/><stop offset="0.8824" stop-color="#f8f9fa"/><stop offset="1" stop-color="#e4e6e8"/></linearGradient>
<linearGradient id="g64" x1="1912.8" y1="0" x2="1919.4" y2="0" gradientUnits="userSpaceOnUse"><stop offset="0" stop-color="#777"/><stop offset="0.1515" stop-color="#e0e0e0"/><stop offset="0.4848" stop-color="#ffffff"/><stop offset="0.8182" stop-color="#e0e0e0"/><stop offset="1" stop-color="#777"/></linearGradient>
<linearGradient id="g65" x1="1906" y1="0" x2="1926.8" y2="0" gradientUnits="userSpaceOnUse"><stop offset="0" stop-color="#b0b0b0"/><stop offset="0.0481" stop-color="#f0f0f0"/><stop offset="0.0865" stop-color="#cfcfcf"/><stop offset="0.1058" stop-color="#000"/><stop offset="0.2019" stop-color="#000"/><stop offset="0.2404" stop-color="#b4b6b8"/><stop offset="0.3365" stop-color="#eef0f2"/><stop offset="0.5" stop-color="#ffffff"/><stop offset="0.6731" stop-color="#eef0f2"/><stop offset="0.75" stop-color="#c4c6c8"/><stop offset="0.7692" stop-color="#000"/><stop offset="0.8269" stop-color="#000"/><stop offset="0.851" stop-color="#d4d4d4"/><stop offset="0.9327" stop-color="#f0f0f0"/><stop offset="1" stop-color="#a8a8a8"/></linearGradient>
<linearGradient id="g66" x1="1941.9" y1="0" x2="1960.7" y2="0" gradientUnits="userSpaceOnUse"><stop offset="0" stop-color="#9a9c9e"/><stop offset="0.0904" stop-color="#8a8c8e"/><stop offset="0.2181" stop-color="#b4b6b8"/><stop offset="0.3777" stop-color="#dfe1e3"/><stop offset="0.5053" stop-color="#eceef0"/><stop offset="0.6436" stop-color="#dfe1e3"/><stop offset="0.7819" stop-color="#b4b6b8"/><stop offset="0.9096" stop-color="#8a8c8e"/><stop offset="1" stop-color="#9a9c9e"/></linearGradient>
<linearGradient id="g67" x1="1941" y1="0" x2="1961.8" y2="0" gradientUnits="userSpaceOnUse"><stop offset="0" stop-color="#8e8e8e"/><stop offset="0.0481" stop-color="#a4a4a4"/><stop offset="0.1635" stop-color="#9c9c9c"/><stop offset="0.1923" stop-color="#c8cacc"/><stop offset="0.3173" stop-color="#f0f2f3"/><stop offset="0.4808" stop-color="#ffffff"/><stop offset="0.6538" stop-color="#eceef0"/><stop offset="0.75" stop-color="#c4c6c8"/><stop offset="0.7692" stop-color="#1a1a1a"/><stop offset="0.8077" stop-color="#2a2a2a"/><stop offset="0.8269" stop-color="#a8a8a8"/><stop offset="0.9423" stop-color="#9c9c9c"/><stop offset="1" stop-color="#8a8a8a"/></linearGradient>
<linearGradient id="g68" x1="0" y1="1044.6" x2="0" y2="1073.2" gradientUnits="userSpaceOnUse"><stop offset="0" stop-color="#ffffff"/><stop offset="0.049" stop-color="#f3f5f7"/><stop offset="0.5385" stop-color="#eff2f5"/><stop offset="0.8881" stop-color="#f0f3f5"/><stop offset="0.9441" stop-color="#e0e2e4"/><stop offset="1" stop-color="#a8aaac"/></linearGradient>
<linearGradient id="g69" x1="0" y1="0" x2="1" y2="0"><stop offset="0" stop-color="#9a9a9a"/><stop offset="1" stop-color="#f0f3f5" stop-opacity="0"/></linearGradient>
<linearGradient id="g70" x1="0" y1="0" x2="1" y2="0"><stop offset="0" stop-color="#ffffff" stop-opacity="0"/><stop offset="0.6" stop-color="#ffffff"/><stop offset="1" stop-color="#e4e4e4"/></linearGradient>
<linearGradient id="g71" x1="0" y1="1045.6" x2="0" y2="1081" gradientUnits="userSpaceOnUse"><stop offset="0" stop-color="#d8d8d8"/><stop offset="0.0282" stop-color="#ffffff"/><stop offset="0.1073" stop-color="#ececec"/><stop offset="0.1356" stop-color="#8a8a8a"/><stop offset="0.1582" stop-color="#111"/><stop offset="0.1864" stop-color="#555"/><stop offset="0.2203" stop-color="#d4d6d8"/><stop offset="0.3503" stop-color="#e6e8ea"/><stop offset="0.5198" stop-color="#eaecee"/><stop offset="0.6893" stop-color="#e0e2e4"/><stop offset="0.774" stop-color="#c4c6c8"/><stop offset="0.8023" stop-color="#222"/><stop offset="0.8757" stop-color="#111"/><stop offset="0.8983" stop-color="#cfcfcf"/><stop offset="0.9435" stop-color="#f2f2f2"/><stop offset="1" stop-color="#c0c0c0"/></linearGradient>
<linearGradient id="g72" x1="0" y1="1043" x2="0" y2="1046.4" gradientUnits="userSpaceOnUse"><stop offset="0" stop-color="#c8c8c8"/><stop offset="0.2941" stop-color="#ffffff"/><stop offset="1" stop-color="#e0e0e0"/></linearGradient>
</defs>
<rect width="2600" height="1462" fill="#7d7d7d"/>
<!-- left: hand shower (side view) -->
<path d="M616.2 462 L639.6 462 C640.2 480 640 500 638.6 520 L637.2 536 L616.2 536 C615 512 615 486 616.2 462 Z" fill="url(#g1)"/>
<path d="M636.4 400.4 C639 394 643.4 388 647.3 385.8 C649 384.6 650.4 384 651.6 384 C656 383.8 661 385 664.4 386.6 C667.6 388.2 669.4 391 670 395 C670.4 400 670.4 408 669.6 413 C668.8 420 666.6 428 661.7 439.6 C659 446 655.4 456 651.9 465.6 L640 461.6 L636.4 452 Z" fill="url(#g2)"/>
<path d="M654.2 424.6 L666.6 424 C665 430 662.6 437 660.4 442.6 C657.6 449.6 654.6 458 651.9 465.6 L640.2 461.4 C646 452 651 440 654.2 424.6 Z" fill="#000"/>
<path d="M655.3 389.5 C656.6 393 657 397 656.9 402 C656.7 408 655.8 414 654.2 420 C651 432 645 446 638.6 456 L637 456 L637 414 C639 409 641 406 642.6 404.4 C645 400 649 394 651.9 391.4 Z" fill="url(#g3)"/>
<path d="M636.4 400.6 C639 394 643.4 388.2 647.3 385.9 C649 384.8 650.4 384.3 651.6 384.3 C653.6 384.6 655 386.6 656 389.8 L655.3 389.5 C654 390 652.8 390.6 651.9 391.4 C649 394 645 400 642.6 404.4 C641 407 639.6 410 638.6 413.6 L636.4 413.6 Z" fill="#000"/>
<path d="M655.8 390.4 C657 394 657.3 398 657.1 402.6" fill="none" stroke="#55585a" stroke-width="0.9"/>
<path d="M654 419.4 C650 431 645 444 638.4 455" fill="none" stroke="#1a1a1a" stroke-width="1.3"/>
<path d="M653.6 428 C650 438 646.4 446.6 641.6 455.6" fill="none" stroke="#e6e8ea" stroke-width="1.5"/>
<path d="M654.6 425 C651 436 646.6 447 641 458" fill="none" stroke="#8a8c8e" stroke-width="0.7" stroke-dasharray="0.8 1.1"/>
<path d="M669.2 414 C668 421 665.8 428.6 661.4 439.6 C658.6 446 655 456 651.6 465.2" fill="none" stroke="#ececec" stroke-width="1.1"/>
<path d="M657 403.2 L669.2 406.6" fill="none" stroke="#8c8e90" stroke-width="0.7"/>
<path d="M640 461.4 L652 465.8 L648.8 478 L645 486 L637.5 486 L637.5 461.4 Z" fill="url(#g4)"/>
<path d="M639 468 L646 470.6 M638.6 473.6 L644.6 476" fill="none" stroke="#3a3a3a" stroke-width="1.1" opacity="0.7"/>
<path d="M637.5 479 L642.4 481 L640.2 494 L637.5 499 Z" fill="#0a0a0a"/>
<ellipse cx="646.1" cy="486.3" rx="4.2" ry="7.8" fill="url(#g5)" transform="rotate(8 646.1 486.3)"/>
<!-- left: wall bracket -->
<rect x="578.6" y="390.2" width="8.7" height="45.2" fill="url(#g6)"/>
<rect x="583.2" y="428.2" width="4.8" height="4.2" fill="#f2f2f2"/>
<rect x="587.3" y="403.6" width="20.1" height="19.2" fill="url(#g7)"/>
<rect x="599.8" y="401.2" width="1.2" height="2.4" fill="#d0d0d0"/>
<rect x="602.4" y="401.2" width="1.2" height="2.4" fill="#d0d0d0"/>
<rect x="607.4" y="406" width="9.6" height="14.2" fill="url(#g8)"/>
<!-- left: riser pipe -->
<rect x="618.8" y="211.6" width="17.4" height="388.4" fill="url(#g9)"/>
<rect x="617.9" y="600" width="19.6" height="441" fill="url(#g10)"/>
<path d="M619 212.6 L619.09 209.79 L619.37 206.99 L619.83 204.21 L620.47 201.47 L621.28 198.78 L622.27 196.14 L623.43 193.58 L624.76 191.1 L626.25 188.71 L627.89 186.42 L629.67 184.25 L631.59 182.19 L633.65 180.27 L635.82 178.49 L638.11 176.85 L640.5 175.36 L642.98 174.03 L645.54 172.87 L648.18 171.88 L650.87 171.07 L653.61 170.43 L656.39 169.97 L659.19 169.69 L662 169.6 L662 186.8 L660.31 186.86 L658.63 187.02 L656.97 187.3 L655.32 187.68 L653.71 188.17 L652.13 188.76 L650.59 189.46 L649.1 190.26 L647.67 191.15 L646.29 192.13 L644.99 193.2 L643.76 194.36 L642.6 195.59 L641.53 196.89 L640.55 198.27 L639.66 199.7 L638.86 201.19 L638.16 202.73 L637.57 204.31 L637.08 205.92 L636.7 207.57 L636.42 209.23 L636.26 210.91 L636.2 212.6 Z" fill="url(#g12)"/>
<path d="M635.53 178.72 L636.47 178 L637.44 177.3 L638.42 176.64 L639.43 176 L640.45 175.39 L641.48 174.81 L642.53 174.26 L643.6 173.74 L644.68 173.24 L645.78 172.78 L646.88 172.35 L648 171.94 L649.13 171.57 L650.28 171.28 L651.47 171.14 L652.68 171.13 L653.9 171.24 L655.11 171.42 L656.31 171.66 L657.48 171.92 L658.64 172.17 L659.78 172.39 L660.89 172.54 L662 172.6 L662 182 L661.15 181.98 L660.3 181.94 L659.45 181.88 L658.58 181.81 L657.71 181.73 L656.82 181.64 L655.92 181.56 L655.01 181.5 L654.09 181.45 L653.16 181.42 L652.22 181.43 L651.28 181.47 L650.34 181.55 L649.4 181.68 L648.47 181.86 L647.56 182.1 L646.66 182.39 L645.79 182.75 L644.96 183.18 L644.15 183.66 L643.36 184.17 L642.58 184.69 L641.82 185.24 L641.07 185.81 Z" fill="url(#g13)"/>
<path d="M628 212.6 L628.07 210.38 L628.29 208.16 L628.65 205.97 L629.16 203.8 L629.81 201.67 L630.62 199.6 L631.62 197.62 L632.77 195.73 L634.08 193.94 L635.51 192.28 L637.06 190.73 L638.72 189.32 L640.46 188.04 L642.27 186.89 L644.14 185.88 L646.06 184.99 L648.01 184.24 L649.99 183.6 L651.98 183.08 L653.98 182.67 L655.99 182.37 L657.99 182.16 L660 182.04 L662 182 L662 185.2 L660.21 185.22 L658.41 185.31 L656.6 185.45 L654.78 185.67 L652.96 185.97 L651.13 186.36 L649.31 186.86 L647.49 187.47 L645.69 188.2 L643.93 189.05 L642.21 190.03 L640.55 191.15 L638.96 192.39 L637.47 193.77 L636.08 195.28 L634.82 196.91 L633.71 198.65 L632.76 200.49 L631.98 202.41 L631.38 204.4 L630.91 206.42 L630.57 208.46 L630.37 210.53 L630.3 212.6 Z" fill="#000"/>
<path d="M629.06 184.96 L630.09 183.78 L631.16 182.64 L632.26 181.54 L633.41 180.48 L634.6 179.46 L635.82 178.49 L637.08 177.56 L638.37 176.67 L639.69 175.84 L641.04 175.05 L642.42 174.32 L643.83 173.63 L645.26 172.99 L646.71 172.41 L648.18 171.88 L649.67 171.41 L651.17 170.99 L652.69 170.62 L654.23 170.31 L655.77 170.05 L657.32 169.86 L658.88 169.71 L660.44 169.63 L662 169.6 L662 172.6 L660.55 172.61 L659.09 172.63 L657.63 172.68 L656.16 172.75 L654.69 172.86 L653.22 173 L651.74 173.17 L650.26 173.39 L648.78 173.65 L647.3 173.97 L645.82 174.34 L644.36 174.76 L642.9 175.25 L641.46 175.8 L640.04 176.41 L638.65 177.09 L637.28 177.84 L635.96 178.66 L634.68 179.55 L633.44 180.51 L632.27 181.54 L631.16 182.64 L630.09 183.78 L629.06 184.96 Z" fill="#000"/>
<path d="M872.5 169.6 L875.64 169.7 L878.77 170.01 L881.86 170.52 L884.92 171.24 L887.93 172.15 L890.87 173.25 L893.73 174.55 L896.5 176.03 L899.17 177.69 L901.72 179.52 L904.15 181.51 L906.44 183.66 L908.59 185.95 L910.58 188.38 L912.41 190.93 L914.07 193.6 L915.55 196.37 L916.85 199.23 L917.95 202.17 L918.86 205.18 L919.58 208.24 L920.09 211.33 L920.4 214.46 L920.5 217.6 L903.7 217.6 L903.63 215.56 L903.43 213.53 L903.1 211.51 L902.64 209.52 L902.04 207.57 L901.33 205.66 L900.48 203.8 L899.52 202 L898.44 200.27 L897.25 198.61 L895.96 197.03 L894.56 195.54 L893.07 194.14 L891.49 192.85 L889.83 191.66 L888.1 190.58 L886.3 189.62 L884.44 188.77 L882.53 188.06 L880.58 187.46 L878.59 187 L876.57 186.67 L874.54 186.47 L872.5 186.4 Z" fill="url(#g14)"/>
<path d="M872.5 172.6 L874.4 172.67 L876.28 172.89 L878.14 173.24 L879.98 173.71 L881.77 174.3 L883.52 175.01 L885.21 175.81 L886.85 176.71 L888.43 177.68 L889.94 178.73 L891.39 179.85 L892.78 181.02 L894.1 182.24 L895.36 183.5 L896.56 184.78 L897.71 186.1 L898.81 187.43 L899.86 188.77 L900.87 190.12 L901.85 191.48 L902.81 192.84 L903.75 194.2 L904.67 195.56 L905.57 196.93 L899.98 200.43 L899.23 199.29 L898.43 198.18 L897.61 197.08 L896.77 196 L895.9 194.93 L895.01 193.88 L894.08 192.85 L893.11 191.84 L892.11 190.86 L891.06 189.9 L889.98 188.98 L888.85 188.1 L887.69 187.25 L886.47 186.46 L885.22 185.71 L883.93 185.03 L882.6 184.4 L881.23 183.84 L879.83 183.36 L878.4 182.95 L876.95 182.63 L875.48 182.39 L873.99 182.25 L872.5 182.2 Z" fill="url(#g15)"/>
<path d="M872.5 169.6 L875.63 169.78 L878.72 170.32 L881.73 171.17 L884.63 172.32 L887.4 173.72 L890.01 175.33 L892.46 177.12 L894.75 179.07 L896.87 181.12 L898.85 183.26 L900.69 185.45 L902.42 187.68 L904.06 189.92 L905.63 192.18 L907.17 194.43 L908.61 196.75 L909.9 199.16 L911.03 201.64 L911.99 204.2 L912.78 206.81 L913.4 209.46 L913.84 212.16 L914.11 214.87 L914.2 217.6 L911.6 217.6 L911.52 215.04 L911.27 212.5 L910.85 209.97 L910.27 207.48 L909.52 205.03 L908.62 202.64 L907.57 200.31 L906.36 198.05 L905.01 195.88 L903.57 193.76 L902.09 191.65 L900.55 189.55 L898.92 187.47 L897.19 185.42 L895.33 183.43 L893.34 181.51 L891.19 179.7 L888.89 178.03 L886.44 176.53 L883.85 175.23 L881.14 174.16 L878.32 173.37 L875.43 172.87 L872.5 172.7 Z" fill="#000"/>
<path d="M872.5 182.2 L873.84 182.27 L875.16 182.48 L876.46 182.81 L877.74 183.24 L878.98 183.76 L880.18 184.35 L881.34 185.01 L882.46 185.7 L883.54 186.42 L884.59 187.16 L885.62 187.89 L886.64 188.61 L887.65 189.31 L888.66 189.97 L889.69 190.61 L890.7 191.28 L891.68 191.99 L892.64 192.73 L893.56 193.51 L894.46 194.32 L895.32 195.17 L896.16 196.05 L896.95 196.96 L897.72 197.9 L897.09 198.39 L896.34 197.48 L895.56 196.59 L894.75 195.73 L893.91 194.91 L893.04 194.11 L892.13 193.35 L891.2 192.63 L890.25 191.94 L889.26 191.29 L888.26 190.67 L887.24 190.07 L886.21 189.49 L885.16 188.93 L884.1 188.4 L883.02 187.89 L881.92 187.42 L880.8 186.98 L879.66 186.59 L878.5 186.25 L877.32 185.95 L876.13 185.72 L874.93 185.54 L873.72 185.44 L872.5 185.4 Z" fill="#000"/>
<rect x="661.4" y="169.6" width="212" height="15.8" fill="url(#g11)"/>
<rect x="655" y="172.9" width="14" height="9.2" fill="url(#g16)"/>
<rect x="665" y="183" width="32.4" height="2.2" fill="url(#g17)"/>
<rect x="810.5" y="182.6" width="4.5" height="2" fill="#9a9a9a"/>
<rect x="903.3" y="217" width="16.9" height="18" fill="url(#g18)"/>
<rect x="902" y="234.6" width="18.8" height="11.8" fill="url(#g19)"/>
<rect x="902" y="234.6" width="18.8" height="0.8" fill="#d2d2d2" opacity="0.8"/>
<path d="M903 246.4 L920 246.4 L919 249.6 L917.4 252.8 L905.6 252.8 L904 249.6 Z" fill="url(#g20)"/>
<rect x="903" y="246" width="17" height="1.2" fill="#1a1a1a" opacity="0.75"/>
<path d="M899.4 252.8 L923.6 252.8 L925.4 254.6 L925.4 269.4 L897.6 269.4 L897.6 254.6 Z" fill="url(#g21)"/>
<rect x="908.6" y="260.2" width="6.3" height="9.2" fill="#9c9e9f"/>
<path d="M814 279.4 L1010 279.4 C990 281.4 955 284.4 920 284.6 C890 284.6 850 282.2 814 279.4 Z" fill="url(#g23)"/>
<path d="M809.8 270.4 Q809.8 269.2 811 269.2 L1012 269.2 Q1013.2 269.2 1013.2 270.4 L1013.2 279 Q1013.2 280.2 1012 280.2 L811 280.2 Q809.8 280.2 809.8 279 Z" fill="url(#g22)"/>
<rect x="814.6" y="269.2" width="198.4" height="1" fill="#ffffff" opacity="0.55"/>
<!-- left: slider, sleeves, ball -->
<rect x="616.4" y="401.4" width="22" height="61" fill="url(#g24)"/>
<rect x="620" y="421.6" width="16" height="33.4" fill="#f4f4f4"/>
<rect x="630.6" y="401.4" width="7.8" height="1" fill="#d0d0d0"/>
<rect x="624.6" y="432" width="5.8" height="23" fill="url(#g25)"/>
<rect x="627.9" y="454.4" width="2.4" height="8" fill="#000"/>
<circle cx="626.9" cy="427.7" r="5.8" fill="#a0a0a1"/>
<rect x="616.4" y="401.4" width="2" height="34.6" fill="#dfe3e4" opacity="0.9"/>
<rect x="618.8" y="462.4" width="17.4" height="73.6" fill="url(#g26)"/>
<rect x="616" y="535.8" width="23.2" height="23.8" fill="url(#g27)"/>
<rect x="616" y="555.4" width="23.2" height="1" fill="#dcdcdc" opacity="0.7"/>
<rect x="616" y="559.6" width="23.2" height="32" fill="url(#g28)"/>
<rect x="624.6" y="574" width="5.8" height="18" fill="url(#g29)"/>
<rect x="636.8" y="588" width="2.4" height="4" fill="#7d7d7d"/>
<circle cx="627" cy="605.5" r="14.75" fill="url(#g30)"/>
<path d="M636.6 594.3 A14.75 14.75 0 0 1 638.6 614.6 A16.5 16.5 0 0 0 636.6 594.3 Z" fill="#000"/>
<!-- left: thermostat valve (side) and hose -->
<rect x="582.8" y="1071.2" width="39.2" height="11.6" fill="url(#g31)"/>
<path d="M636 1071.6 L672 1071.6 C656 1073.4 645.5 1078 640.6 1087.4 L636 1087.4 Z" fill="url(#g32)"/>
<path d="M621.8 1071.6 L636.4 1071.6 L638.6 1082.6 L640.8 1084 L640.8 1095.6 L621.8 1095.6 Z" fill="url(#g33)"/>
<path d="M632.4 1075 L637.2 1075.6 L635.4 1081.4 L633 1081.4 Z" fill="#0a0a0a"/>
<rect x="621.8" y="1082.6" width="10.2" height="1.6" fill="#6c6c6c" opacity="0.8"/>
<rect x="621.8" y="1094.4" width="19" height="1.4" fill="#5a5a5a" opacity="0.8"/>
<ellipse cx="636.6" cy="1088.6" rx="2.6" ry="4.6" fill="#c9c9c9"/>
<rect x="627.4" y="1085" width="1" height="9" fill="#9a9a9a"/>
<rect x="621.8" y="1095.8" width="19.6" height="33.2" fill="url(#g34)"/>
<path d="M624.5 1129 L637.9 1129 L637.7 1370.4 Q632.15 1375.4 626.6 1370.4 Z" fill="url(#g35)"/>
<path d="M624.7 1130 L626.8 1370.4" fill="none" stroke="#7d7d7d" stroke-width="1.2" stroke-dasharray="2.6 4.2" opacity="0.85"/>
<path d="M637.8 1130 L637.6 1370.4" fill="none" stroke="#7d7d7d" stroke-width="1.2" stroke-dasharray="2.6 4.2" stroke-dashoffset="3.4" opacity="0.85"/>
<path d="M626.8 1130 L628.5 1370.4" fill="none" stroke="#8e8e8e" stroke-width="1.5" stroke-dasharray="2.4 4.4" stroke-dashoffset="1.2" opacity="0.7"/>
<path d="M634.3 1130 L634.4 1370.4" fill="none" stroke="#141414" stroke-width="0.9" stroke-dasharray="3 3.8" opacity="0.8"/>
<path d="M628.2 1347.4 L629.4 1372.4" fill="none" stroke="#222" stroke-width="2.6" stroke-dasharray="1.5 2.1" opacity="0.75"/>
<path d="M635.6 1347.4 L635.6 1372.4" fill="none" stroke="#222" stroke-width="2.2" stroke-dasharray="1.5 2.1" stroke-dashoffset="1.8" opacity="0.7"/>
<rect x="582.8" y="1040.6" width="112.8" height="2.4" fill="#2e2f30" rx="1"/>
<rect x="670" y="1040.4" width="25.6" height="2.2" fill="#1c1c1c" rx="1"/>
<rect x="582.8" y="1042.8" width="113.2" height="28.6" fill="url(#g36)"/>
<rect x="590" y="1042.8" width="98" height="1" fill="#c4c4c4" opacity="0.8"/>
<rect x="590" y="1070.2" width="98" height="1.4" fill="#58595a" opacity="0.85"/>
<rect x="696.6" y="1043.2" width="14.8" height="27.4" fill="url(#g37)"/>
<rect x="698" y="1046.4" width="12" height="1" fill="#8a8a8a" opacity="0.8"/>
<rect x="698" y="1066.4" width="12" height="1" fill="#8a8a8a" opacity="0.8"/>
<!-- right: flexible hose -->
<use href="#hosep" fill="none" stroke="#eceeef" stroke-width="12" stroke-dasharray="2.8 2" opacity="0.72"/>
<use href="#hosep" fill="none" stroke="#262626" stroke-width="9.4" opacity="0.85" transform="translate(0.25 0.1)"/>
<use href="#hosep" fill="none" stroke="#b4b6b8" stroke-width="6.5"/>
<use href="#hosep" fill="none" stroke="#f3f5f7" stroke-width="5.6"/>
<!-- right: arm (front) and overhead shower -->
<path d="M1905.6 239.4 L1905.6 183 Q1905.6 173.4 1914.8 173.4 Q1924 173.4 1924 183 L1924 239.4 Z" fill="url(#g38)"/>
<path d="M1905.6 205 L1905.6 183 Q1905.6 173.4 1914.8 173.4 Q1924 173.4 1924 183 L1924 205 L1922.4 205 L1922.4 196 C1922 188 1919.4 183.6 1914.8 183.6 C1910.2 183.6 1907.6 188 1907.2 196 L1907.2 205 Z" fill="url(#g39)"/>
<path d="M1907.2 212 L1907.2 196 C1907.6 188 1910.2 183.8 1914.8 183.8 C1919.4 183.8 1922 188 1922.4 196 L1922.4 212 L1920.6 212 L1920.4 201 C1920 194.6 1918 191 1914.8 191 C1911.6 191 1909.6 194.6 1909.2 201 L1909 212 Z" fill="#000"/>
<path d="M1909.2 214 L1909.4 201 C1909.8 194.8 1911.8 191.4 1914.8 191.4 C1917.8 191.4 1919.8 194.8 1920.2 201 L1920.4 214" fill="none" stroke="#7a7d80" stroke-width="1" opacity="0.8"/>
<rect x="1904.8" y="239.2" width="20" height="11" fill="url(#g40)"/>
<path d="M1906 250.2 L1923.6 250.2 L1922.6 253 L1924 256.8 L1905.6 256.8 L1907 253 Z" fill="url(#g41)"/>
<rect x="1907" y="252.4" width="15.6" height="1.2" fill="#e8e8e8" opacity="0.8"/>
<path d="M1902 256.8 L1927.4 256.8 L1928.8 258.2 L1928.8 273.4 L1900.6 273.4 L1900.6 258.2 Z" fill="url(#g42)"/>
<rect x="1900.6" y="256.8" width="28.2" height="1.2" fill="#e6e6e6" opacity="0.7"/>
<path d="M1826 283.4 L2002 283.4 C1985 285.8 1950 288.6 1914.6 288.8 C1880 288.6 1845 285.8 1826 283.4 Z" fill="url(#g43)"/>
<path d="M1813 274.8 Q1813 273.2 1814.6 273.2 L2014.2 273.2 Q2015.8 273.2 2015.8 274.8 L2015.8 283 Q2015.8 284.6 2014.2 284.6 L1814.6 284.6 Q1813 284.6 1813 283 Z" fill="url(#g44)"/>
<rect x="1814" y="273.2" width="201" height="1.2" fill="#ffffff" opacity="0.6"/>
<rect x="1912.8" y="285" width="3.6" height="3.6" fill="#b8b8b8"/>
<!-- right: wall bracket disc + riser pipe -->
<ellipse cx="1909.4" cy="411" rx="18.6" ry="16.4" fill="url(#g45)"/>
<rect x="1905.8" y="288.4" width="18.5" height="311.6" fill="url(#g46)"/>
<rect x="1904.7" y="600" width="20.6" height="443" fill="url(#g47)"/>
<!-- right: slider, sleeve, holder -->
<rect x="1905.6" y="405.8" width="2.1" height="60.4" fill="#151515"/>
<rect x="1904.6" y="429" width="1.4" height="37.2" fill="#e8e8e8"/>
<rect x="1907.7" y="405.8" width="13.3" height="60.4" fill="url(#g48)"/>
<path d="M1921 402 L1924.4 402 L1924.4 466 L1921 466 Z" fill="#e4e6e8"/>
<rect x="1905.8" y="466.2" width="18.5" height="72.6" fill="url(#g49)"/>
<rect x="1881.8" y="425.8" width="23.8" height="11" fill="url(#g50)"/>
<rect x="1881.8" y="425.8" width="1.2" height="11" fill="#b0b0b0"/>
<rect x="1884.6" y="436.8" width="6.2" height="21" fill="url(#g51)"/>
<rect x="1902.8" y="538.6" width="24.4" height="24.4" fill="url(#g52)"/>
<rect x="1902.8" y="538.6" width="24.4" height="1" fill="#d0d0d0" opacity="0.7"/>
<rect x="1904.6" y="563" width="20.8" height="34" fill="url(#g53)"/>
<rect x="1880.4" y="577" width="5.8" height="18" fill="url(#g54)" rx="1"/>
<rect x="1877" y="593.6" width="29" height="5.4" fill="url(#g55)"/>
<rect x="1924" y="593.6" width="26" height="5.4" fill="url(#g56)"/>
<rect x="1876.8" y="598.6" width="90.4" height="25.8" fill="url(#g57)" rx="1"/>
<rect x="1897.4" y="599" width="0.8" height="25" fill="#e0e2e4"/>
<!-- right: hand shower (front) -->
<path d="M1926 470 C1932 479 1938 487 1940.6 498 C1942 508 1942.4 524 1942.6 540 L1943.4 588 Q1943.6 591.8 1947 591.8 L1964.8 591.8 Q1968 591.8 1968.2 588 L1969 536 C1969.4 520 1970.4 508 1972.4 498 C1975 488 1981 480 1990 468 Z" fill="url(#g58)"/>
<path d="M1968.6 513.6 C1966.6 520 1965.2 530 1965 545 L1964.8 588 Q1965 591.4 1967 590.6 Q1968.2 590 1968.2 588 L1969 536 C1969 528 1968.8 520 1968.6 513.6 Z" fill="#000"/>
<path d="M1941.4 500 C1942.6 512 1943.2 530 1943.4 545 L1944.2 588" fill="none" stroke="#ffffff" stroke-width="1.4" opacity="0.9"/>
<path d="M1940.2 497 C1941.6 508 1942 524 1942.2 540 L1943 588" fill="none" stroke="#b4b6b8" stroke-width="0.9"/>
<rect x="1948.6" y="591.8" width="16.8" height="6.4" fill="url(#g59)"/>
<circle cx="1961.2" cy="436.7" r="48.4" fill="url(#g60)"/>
<path d="M1931.4 402.4 C1933.6 400.2 1936 398.2 1938.4 396.6" fill="none" stroke="#1a1a1a" stroke-width="1.3"/>
<path d="M1924.6 409.6 C1926 407.6 1927.6 405.8 1929.2 404.2" fill="none" stroke="#8a8c8e" stroke-width="1.6"/>
<path d="M1918.4 430 C1919.4 423 1921.6 416.4 1924.6 411" fill="none" stroke="#c4c6c8" stroke-width="1.2"/>
<circle cx="1962.1" cy="439.7" r="45.7" fill="url(#g61)"/>
<line x1="1963.02" y1="425.44" x2="1964.75" y2="400.7" stroke="#a6a7a8" stroke-width="3.2"/>
<line x1="1970.73" y1="428.3" x2="1985.56" y2="408.42" stroke="#a6a7a8" stroke-width="3.2"/>
<line x1="1975.67" y1="434.88" x2="1998.89" y2="426.17" stroke="#a6a7a8" stroke-width="3.2"/>
<line x1="1976.27" y1="443.08" x2="2000.51" y2="448.31" stroke="#a6a7a8" stroke-width="3.2"/>
<line x1="1972.34" y1="450.31" x2="1989.9" y2="467.82" stroke="#a6a7a8" stroke-width="3.2"/>
<line x1="1965.13" y1="454.26" x2="1970.44" y2="478.49" stroke="#a6a7a8" stroke-width="3.2"/>
<line x1="1956.92" y1="453.69" x2="1948.29" y2="476.94" stroke="#a6a7a8" stroke-width="3.2"/>
<line x1="1950.33" y1="448.77" x2="1930.5" y2="463.66" stroke="#a6a7a8" stroke-width="3.2"/>
<line x1="1947.44" y1="441.06" x2="1922.7" y2="442.87" stroke="#a6a7a8" stroke-width="3.2"/>
<line x1="1949.17" y1="433.02" x2="1927.39" y2="421.17" stroke="#a6a7a8" stroke-width="3.2"/>
<line x1="1954.98" y1="427.2" x2="1943.06" y2="405.45" stroke="#a6a7a8" stroke-width="3.2"/>
<circle cx="1962.48" cy="430.11" r="2" fill="#f4f4f4" stroke="#b4b6b8" stroke-width="0.8"/>
<circle cx="1962.48" cy="430.11" r="0.6" fill="#9a9c9e"/>
<circle cx="1970" cy="433.53" r="2" fill="#f4f4f4" stroke="#b4b6b8" stroke-width="0.8"/>
<circle cx="1970" cy="433.53" r="0.6" fill="#9a9c9e"/>
<circle cx="1972.89" cy="441.28" r="2" fill="#f4f4f4" stroke="#b4b6b8" stroke-width="0.8"/>
<circle cx="1972.89" cy="441.28" r="0.6" fill="#9a9c9e"/>
<circle cx="1969.47" cy="448.8" r="2" fill="#f4f4f4" stroke="#b4b6b8" stroke-width="0.8"/>
<circle cx="1969.47" cy="448.8" r="0.6" fill="#9a9c9e"/>
<circle cx="1961.72" cy="451.69" r="2" fill="#f4f4f4" stroke="#b4b6b8" stroke-width="0.8"/>
<circle cx="1961.72" cy="451.69" r="0.6" fill="#9a9c9e"/>
<circle cx="1954.2" cy="448.27" r="2" fill="#f4f4f4" stroke="#b4b6b8" stroke-width="0.8"/>
<circle cx="1954.2" cy="448.27" r="0.6" fill="#9a9c9e"/>
<circle cx="1951.31" cy="440.52" r="2" fill="#f4f4f4" stroke="#b4b6b8" stroke-width="0.8"/>
<circle cx="1951.31" cy="440.52" r="0.6" fill="#9a9c9e"/>
<circle cx="1954.73" cy="433" r="2" fill="#f4f4f4" stroke="#b4b6b8" stroke-width="0.8"/>
<circle cx="1954.73" cy="433" r="0.6" fill="#9a9c9e"/>
<path d="M1955.6 476 L1962.4 460 L1965 476 L1963.4 492 L1957.6 492 Z" fill="url(#g62)"/>
<path d="M1956.4 489 L1957.2 497.6" fill="none" stroke="#a8aaac" stroke-width="1.6"/>
<!-- right: thermostat valve (front) -->
<path d="M1757 1072.6 L1786 1072.8 C1800 1073.4 1808 1076 1816 1078.4 C1826 1081.4 1836 1085.6 1848 1086.2 L1976 1086.2 C1986 1086.2 1990 1083.2 2000 1082 L2076.4 1082 L2076.4 1072.6 Z" fill="url(#g63)"/>
<rect x="1912.8" y="1086" width="6.6" height="10.4" fill="url(#g64)"/>
<rect x="1912.8" y="1086" width="6.6" height="1.4" fill="#333"/>
<path d="M1906 1098 Q1906 1096.2 1908 1096.2 L1924.8 1096.2 Q1926.8 1096.2 1926.8 1098 L1926.8 1130.6 L1906 1130.6 Z" fill="url(#g65)"/>
<path d="M1910.6 1099.6 C1912 1097.4 1920 1097.4 1921.8 1099.6 L1921.8 1103 L1910.6 1103 Z" fill="#f4f5f6"/>
<path d="M1941.9 1073 L1960.7 1073 L1960.2 1075.8 L1955.6 1078.8 L1960.4 1081.6 L1960 1085.8 L1942.6 1085.8 L1942.2 1081.6 L1947 1078.8 L1942.4 1075.8 Z" fill="url(#g66)"/>
<path d="M1942.6 1075.6 L1947.4 1078.8 L1942.6 1081.8 M1960 1075.6 L1955.2 1078.8 L1960 1081.8" fill="none" stroke="#1e1e1e" stroke-width="1.3" stroke-linejoin="round" opacity="0.9"/>
<rect x="1942.4" y="1073" width="18" height="1.2" fill="#9a9c9e" opacity="0.8"/>
<rect x="1942.8" y="1081.6" width="17.2" height="1" fill="#8c8e90" opacity="0.7"/>
<rect x="1941" y="1086.6" width="20.8" height="8.4" fill="url(#g67)" rx="1.4"/>
<rect x="1753.6" y="1042" width="322.8" height="3" fill="#3c3d3e" rx="1"/>
<rect x="1753.6" y="1044.6" width="322.8" height="28.6" fill="url(#g68)"/>
<path d="M1753.6 1045 L1756.2 1045 L1756.2 1071 Q1756.2 1072.6 1757.6 1072.8 L1755 1072.8 Q1753.6 1072.6 1753.6 1071 Z" fill="#0a0a0a"/>
<rect x="1756.2" y="1045" width="1.8" height="27" fill="url(#g69)"/>
<rect x="2072.8" y="1046" width="2.4" height="26" fill="#0a0a0a" rx="0.8"/>
<rect x="2066" y="1045" width="6.8" height="27.4" fill="url(#g70)"/>
<rect x="2075.2" y="1045" width="1.4" height="28" fill="#d4d4d4"/>
<circle cx="1914.8" cy="1058.9" r="13.6" fill="#f4f6f8" stroke="#dcdee0" stroke-width="1.4"/>
<circle cx="1914.8" cy="1058.9" r="10.6" fill="none" stroke="#e2e4e6" stroke-width="0.8"/>
<path d="M1913 1054.4 L1916.4 1054.4 L1916 1056.8 L1913.4 1056.8 Z M1916.4 1058.6 L1912.4 1063.6 M1914.2 1059.8 L1917 1062.2" fill="#c4c6c8" stroke="#c0c2c4" stroke-width="0.8"/>
<rect x="2077.8" y="1045.6" width="32.4" height="35.4" fill="url(#g71)" rx="1"/>
<rect x="2077.8" y="1045.6" width="1.8" height="35.4" fill="#ffffff" opacity="0.5"/>
<rect x="2108.4" y="1045.6" width="1.8" height="35.4" fill="#9a9a9a" opacity="0.5"/>
<rect x="2087.2" y="1043" width="18.2" height="3.4" fill="url(#g72)" rx="1.2"/>
<path d="M2084 1058 l4 -3 4 3 4 -3 4 3 4 -3 M2084 1063 l4 -3 4 3 4 -3 4 3 4 -3 M2084 1068 l4 -3 4 3 4 -3 4 3 4 -3" fill="none" stroke="#ffffff" stroke-width="0.9" opacity="0.8"/>
<!-- dimension lines -->
<rect x="576" y="118" width="2" height="56" fill="#000"/>
<rect x="1026" y="118" width="2" height="56" fill="#000"/>
<rect x="594" y="144.7" width="418" height="1.8" fill="#444444"/>
<polygon points="580,145.6 596,137.8 596,153.4" fill="#444444"/>
<polygon points="1025,145.6 1009,153.4 1009,137.8" fill="#444444"/>
<rect x="1072.5" y="165" width="55" height="2" fill="#000"/>
<rect x="665" y="412" width="462.5" height="2" fill="#000"/>
<rect x="1098.5" y="181" width="1.6" height="216" fill="#444444"/>
<polygon points="1099.2,167.5 1107,183.5 1091.4,183.5" fill="#444444"/>
<polygon points="1099.3,411.3 1091.5,395.3 1107.1,395.3" fill="#444444"/>
<rect x="1794" y="118" width="2" height="56" fill="#000"/>
<rect x="2031.6" y="118" width="2" height="56" fill="#000"/>
<rect x="1811" y="144.7" width="207" height="1.8" fill="#444444"/>
<polygon points="1797,145.6 1813,137.8 1813,153.4" fill="#444444"/>
<polygon points="2030.6,145.6 2014.6,153.4 2014.6,137.8" fill="#444444"/>
<rect x="1627.5" y="172.4" width="55.5" height="2" fill="#000"/>
<rect x="1627.5" y="1094.4" width="55.5" height="2" fill="#000"/>
<rect x="1653.7" y="189" width="1.6" height="886" fill="#444444"/>
<polygon points="1654.5,175.5 1662.3,191.5 1646.7,191.5" fill="#444444"/>
<polygon points="1654.5,1089.9 1646.7,1073.9 1662.3,1073.9" fill="#444444"/>
<!-- labels -->
<text class="ttl" x="54.6" y="72" font-size="40" font-weight="500" letter-spacing="4.25">尺寸图</text>
<text class="ttl" transform="translate(191.6 70.05) scale(0.93 1)" font-size="32">▶</text>
<text class="dim" transform="translate(818.2 109.9) scale(1.12 1)" font-size="29.6" text-anchor="middle">530mm</text>
<text class="dim" transform="translate(1916 109.9) scale(1.12 1)" font-size="29.6" text-anchor="middle">250mm</text>
<text class="dim" transform="translate(1138.2 316.7) rotate(-90) scale(1.12 1)" font-size="29.6" text-anchor="middle">278mm</text>
<text class="dim" transform="translate(1630.2 629.7) rotate(-90) scale(1.12 1)" font-size="29.6" text-anchor="middle">1071mm</text>
</svg>
</body>
</html>
